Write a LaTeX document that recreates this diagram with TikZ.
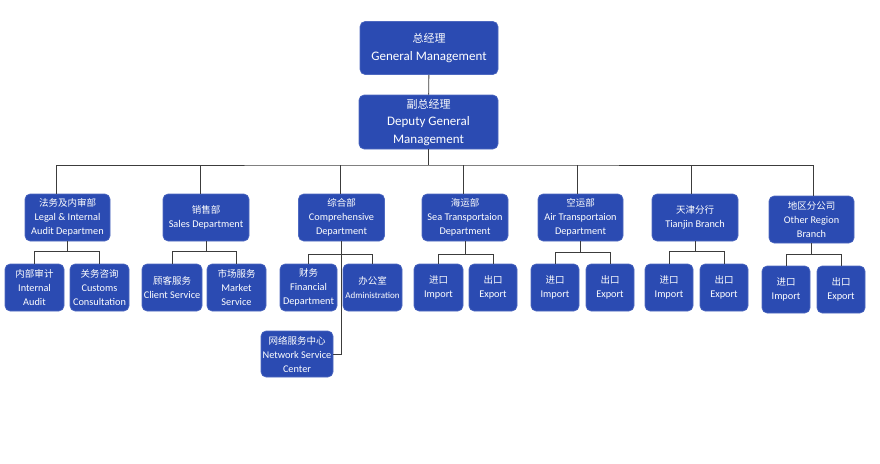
\documentclass[tikz,border=0pt]{standalone}
\usepackage{fontspec}
\setmainfont{Carlito}
\newfontfamily\cjk{Noto Sans CJK SC}
\usepackage{tikz}
\usetikzlibrary{positioning,calc}
\definecolor{boxblue}{RGB}{43,75,178}
\definecolor{boxline}{RGB}{78,105,192}
\definecolor{linegray}{RGB}{60,60,60}
\newcommand{\zh}[1]{{\cjk\fontsize{9.5}{14}\selectfont #1}}
\newcommand{\zhtop}[1]{{\cjk\fontsize{11}{17.5}\selectfont #1}}
\tikzset{
    unit/.style={
        draw=boxline,
        fill=boxblue,
        rounded corners=5pt,
        text=white,
        align=center,
        inner sep=1pt,
        minimum height=47pt,
        line width=0.6pt,
        font=\fontsize{10.3}{14}\selectfont
    },
    head/.style={
        unit,
        minimum height=53pt,
        font=\fontsize{13}{17.5}\selectfont
    },
    link/.style={
        draw=linegray,
        line width=0.9pt
    }
}

\begin{document}
\begin{tikzpicture}[x=1pt, y=-1pt]
  \useasboundingbox (0,0) rectangle (880,463);

  % Management
  \node[head, minimum width=138pt] (gm) at (429,48) {\zhtop{总经理}\\General Management};
  \node[head, minimum width=139pt, minimum height=54pt] (dgm) at (428.5,122) {\zhtop{副总经理}\\Deputy General\\Management};

  % Departments
  \node[unit, minimum width=85pt] (legal) at (67.5,217.5) {\zh{法务及内审部}\\Legal \& Internal\\Audit Departmen};
  \node[unit, minimum width=86pt] (sales) at (206,217.5) {\zh{销售部}\\Sales Department};
  \node[unit, minimum width=86pt] (comp) at (341.5,217.5) {\zh{综合部}\\Comprehensive\\Department};
  \node[unit, minimum width=86pt] (sea) at (465,217.5) {\zh{海运部}\\Sea Transportaion\\Department};
  \node[unit, minimum width=85pt] (air) at (580.5,217.5) {\zh{空运部}\\Air Transportaion\\Department};
  \node[unit, minimum width=86pt] (tianjin) at (695,217.5) {\zh{天津分行}\\Tianjin Branch};
  \node[unit, minimum width=85pt] (other) at (811.5,219.5) {\zh{地区分公司}\\Other Region\\Branch};

  % Sections
  \node[unit, minimum width=59pt] (audit) at (34.5,287.5) {\zh{内部审计}\\Internal\\Audit};
  \node[unit, minimum width=59pt] (customs) at (99.5,287.5) {\zh{关务咨询}\\Customs\\Consultation};
  \node[unit, minimum width=60pt] (client) at (172,287.5) {\zh{顾客服务}\\Client Service};
  \node[unit, minimum width=59pt] (market) at (236.5,287.5) {\zh{市场服务}\\Market\\Service};
  \node[unit, minimum width=57pt] (fin) at (308.5,287.5) {\zh{财务}\\Financial\\Department};
  \node[unit, minimum width=59pt] (adm) at (372.5,287.5) {\zh{办公室}\\{\fontsize{9}{14}\selectfont Administration}};
  \node[unit, minimum width=49pt] (seaimp) at (438.5,287.5) {\zh{进口}\\Import};
  \node[unit, minimum width=48pt] (seaexp) at (493,287.5) {\zh{出口}\\Export};
  \node[unit, minimum width=48pt] (airimp) at (555,287.5) {\zh{进口}\\Import};
  \node[unit, minimum width=48pt] (airexp) at (610,287.5) {\zh{出口}\\Export};
  \node[unit, minimum width=48pt] (tjimp) at (669,287.5) {\zh{进口}\\Import};
  \node[unit, minimum width=48pt] (tjexp) at (724,287.5) {\zh{出口}\\Export};
  \node[unit, minimum width=48pt] (orimp) at (786,289.5) {\zh{进口}\\Import};
  \node[unit, minimum width=48pt] (orexp) at (841,289.5) {\zh{出口}\\Export};
  \node[unit, minimum width=72pt, minimum height=46pt] (net) at (297,354) {\zh{网络服务中心}\\Network Service\\Center};

  % Management links
  \coordinate (bus) at (428.5,165);
  \draw[link] (gm) -- (dgm);
  \draw[link] (dgm) -- (bus);
  \draw[link] ([xshift=-11pt]legal.north) |- (bus) -| ([xshift=1.5pt]other.north);
  \draw[link] ([xshift=-6pt]sales.north) -- ([xshift=-6pt]sales.north |- bus);
  \draw[link] ([xshift=-1.5pt]comp.north) -- ([xshift=-1.5pt]comp.north |- bus);
  \draw[link] ([xshift=-2pt]sea.north) -- ([xshift=-2pt]sea.north |- bus);
  \draw[link] ([xshift=-3.5pt]air.north) -- ([xshift=-3.5pt]air.north |- bus);
  \draw[link] ([xshift=-4pt]tianjin.north) -- ([xshift=-4pt]tianjin.north |- bus);

  % Department links
  \draw[link] (legal.south) -- ([yshift=-10pt]legal.south);
  \draw[link] (audit.north) |- ([yshift=-10pt]legal.south) -| (customs.north);
  \draw[link] (sales.south) -- ([yshift=-10pt]sales.south);
  \draw[link] (client.north) |- ([yshift=-10pt]sales.south) -| (market.north);
  \draw[link] (fin.north) |- ([yshift=-13pt]comp.south) -| (adm.north);
  \draw[link] (comp.south) |- (net.east);
  \draw[link] (sea.south) -- ([yshift=-13pt]sea.south);
  \draw[link] (seaimp.north) |- ([yshift=-13pt]sea.south) -| (seaexp.north);
  \draw[link] (air.south) -- ([yshift=-11pt]air.south);
  \draw[link] (airimp.north) |- ([yshift=-11pt]air.south) -| (airexp.north);
  \draw[link] (tianjin.south) -- ([yshift=-10pt]tianjin.south);
  \draw[link] (tjimp.north) |- ([yshift=-10pt]tianjin.south) -| (tjexp.north);
  \draw[link] (other.south) -- ([yshift=-11pt]other.south);
  \draw[link] (orimp.north) |- ([yshift=-11pt]other.south) -| (orexp.north);
\end{tikzpicture}
\end{document}
